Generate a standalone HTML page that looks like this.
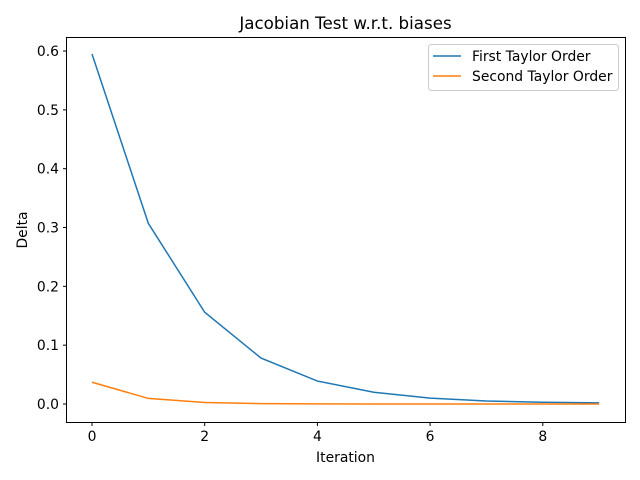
<!DOCTYPE html>
<html><head><meta charset="utf-8"><style>
body{margin:0;background:#fff}
svg{display:block;font-family:"DejaVu Sans","Liberation Sans",sans-serif}
</style></head><body>
<svg id="c" width="640" height="480" xmlns="http://www.w3.org/2000/svg">
<rect width="640" height="480" fill="#fff"/>
<text x="345.5" y="29" font-size="16.7" text-anchor="middle">Jacobian Test w.r.t. biases</text>
<text x="345.5" y="462" font-size="13.9" text-anchor="middle">Iteration</text>
<text transform="translate(27,230) rotate(-90)" font-size="13.9" text-anchor="middle">Delta</text>
<g id="ticks"></g>
<g id="series"></g>
<rect x="66.5" y="37.5" width="559" height="385" fill="none" stroke="#000" stroke-width="1"/>
<g>
<rect x="428.5" y="44.5" width="190" height="46" rx="3" fill="#fff" fill-opacity="0.8" stroke="#ccc"/>
<line x1="433" y1="56" x2="461" y2="56" stroke="#1f77b4" stroke-width="1.5"/>
<text x="472" y="61" font-size="13.9">First Taylor Order</text>
<line x1="433" y1="76" x2="461" y2="76" stroke="#ff7f0e" stroke-width="1.5"/>
<text x="472" y="81" font-size="13.9">Second Taylor Order</text>
</g>
</svg>
<script>
const iterations=[0,1,2,3,4,5,6,7,8,9];
const firstOrder=[0.595,0.307,0.156,0.078,0.039,0.020,0.010,0.005,0.003,0.002];
const secondOrder=[0.037,0.0095,0.0025,0.0006,0.00015,0.00004,0.00001,0,0,0];
const xTicks=[0,2,4,6,8];
const yTicks=[0.0,0.1,0.2,0.3,0.4,0.5,0.6];
const NS="http://www.w3.org/2000/svg";
const xs=v=>92+v*56.35;
const ys=v=>404-v*588.3;
const tg=document.getElementById('ticks'),sg=document.getElementById('series');
function mk(t,a,p){const e=document.createElementNS(NS,t);for(const k in a)e.setAttribute(k,a[k]);p.appendChild(e);return e;}
xTicks.forEach(v=>{
 const l=mk('line',{x1:xs(v),x2:xs(v),y1:422.5,y2:426,stroke:'#000'},tg);
 
 
 const t=mk('text',{x:xs(v),y:441,'font-size':13.9,'text-anchor':'middle'},tg);t.textContent=v;
 
 
});
yTicks.forEach(v=>{
 const l=mk('line',{x1:63,x2:66.5,y1:ys(v),y2:ys(v),stroke:'#000'},tg);
 
 
 const t=mk('text',{x:59,y:ys(v)+5,'font-size':13.9,'text-anchor':'end'},tg);t.textContent=v.toFixed(1);
 
 
});
[[firstOrder,'#1f77b4','first-taylor-line'],[secondOrder,'#ff7f0e','second-taylor-line']].forEach(([d,c,n])=>{
 const p=mk('polyline',{points:d.map((v,i)=>xs(iterations[i])+','+ys(v)).join(' '),fill:'none',stroke:c,'stroke-width':1.5},sg);
 
 
});
</script>
</body></html>
